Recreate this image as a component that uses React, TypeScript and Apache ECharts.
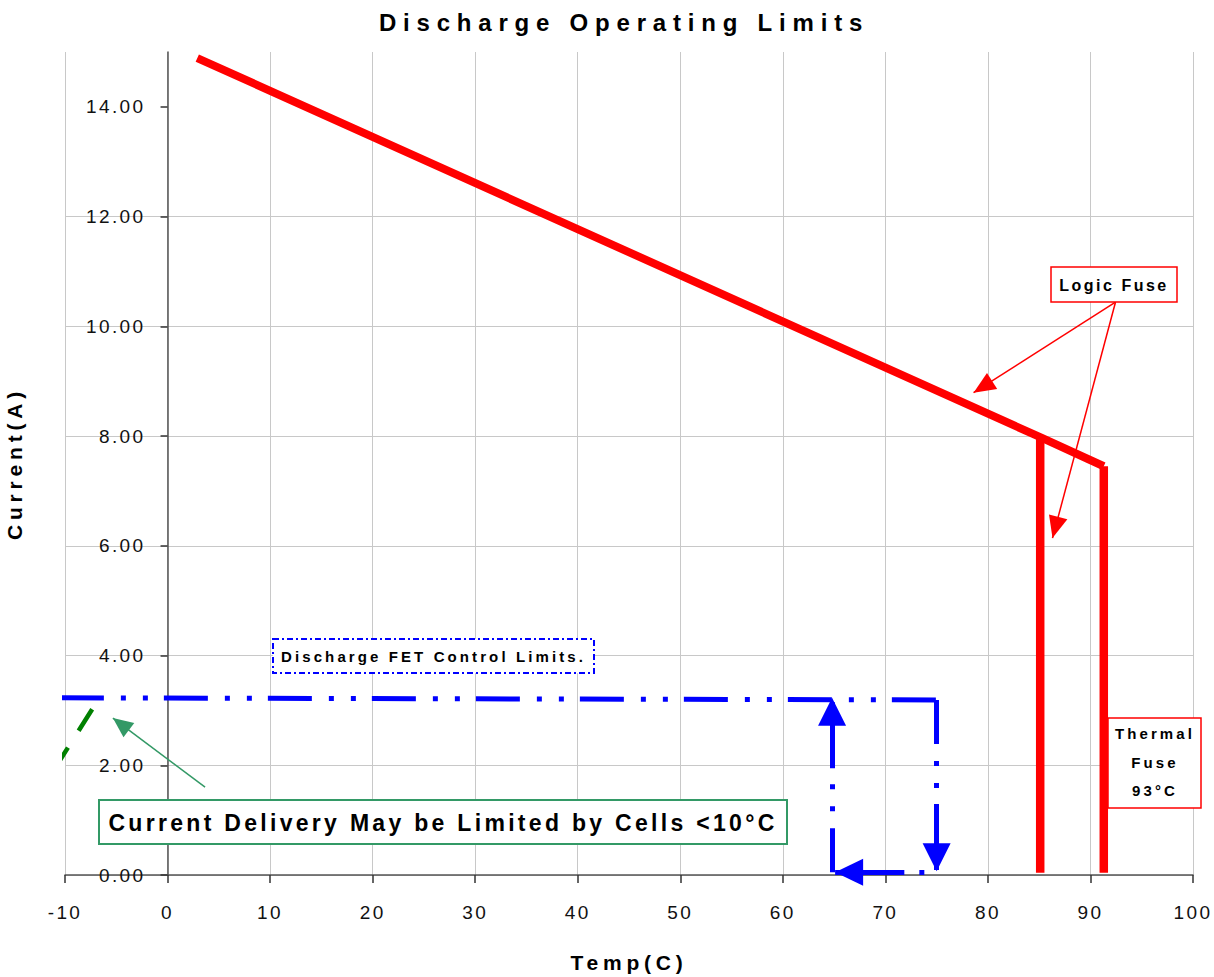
import React, { useEffect, useRef } from 'react';
import * as echarts from 'echarts';

// ---------- texts ----------
const TITLE = 'Discharge Operating Limits';
const X_NAME = 'Temp(C)';
const Y_NAME = 'Current(A)';
const LOGIC_LABEL = 'Logic Fuse';
const FET_LABEL = 'Discharge FET Control Limits.';
const CELL_LABEL = 'Current Delivery May be Limited by Cells <10°C';
const THERMAL_LABEL = 'Thermal\nFuse\n93°C';

// ---------- axes ----------
const X_MIN = -10;
const X_MAX = 100;
const X_STEP = 10;
const Y_MIN = 0;
const Y_MAX = 15;
const Y_STEP = 2;
const Y_TICKS = [0, 2, 4, 6, 8, 10, 12, 14];

// ---------- series (temp °C, current A) ----------
const LOGIC_FUSE_TEMP = [2.9, 85.1, 91.3];
const LOGIC_FUSE_CURRENT = [14.89, 7.98, 7.45];

const LOGIC_CUTOFF_TEMP = [85.1, 85.1];
const LOGIC_CUTOFF_CURRENT = [7.98, 0.04];

const THERMAL_TEMP = [91.3, 91.3];
const THERMAL_CURRENT = [7.45, 0.04];

const FET_TEMP = [-10.5, 75];
const FET_CURRENT = [3.23, 3.19];

const CELL_TEMP = [-10.6, -7.35];
const CELL_CURRENT = [2.06, 3.02];

// ---------- arrows (data coordinates) ----------
const FET_DOWN_FROM = [75, 3.19];
const FET_DOWN_TO = [75, 0.07];
const FET_LEFT_FROM = [73.8, 0.05];
const FET_LEFT_TO = [65.1, 0.05];
const FET_UP_FROM = [64.8, 0.05];
const FET_UP_TO = [64.8, 3.23];
const LOGIC_ARROW_FROM = [92.44, 10.44];
const LOGIC_ARROW_TO_A = [78.6, 8.79];
const LOGIC_ARROW_TO_B = [86.3, 6.14];
const CELL_ARROW_FROM = [3.66, 1.6];
const CELL_ARROW_TO = [-5.33, 2.86];

const FONT = 'Arial, Liberation Sans, sans-serif';
const RED = '#ff0000';
const BLUE = '#0000ff';
const SEA = '#339966';
const GREEN = '#008000';
const DASH_DOT_DOT = [44, 17, 5, 17, 5, 16];

const GRID_LEFT = 65;
const GRID_RIGHT = 21;
const CHART_W = 1214;
// the y axis sits at temp = 0, so shift it from the grid edge to that position
const Y_AXIS_SHIFT = ((0 - X_MIN) / (X_MAX - X_MIN)) * (CHART_W - GRID_LEFT - GRID_RIGHT);

const CSS = `
body{margin:0}
#dol svg text[style*="24px"]{letter-spacing:6.8px}
#dol svg text[style*="19px"]{letter-spacing:2.4px}
#dol svg text[style*="21px"]{letter-spacing:4.8px}
#dol svg text[style*="23px"]{letter-spacing:3.3px}
#dol svg text[style*="16px"]{letter-spacing:2.5px}
#dol svg text[style*="15px"]{letter-spacing:3.1px}
`;

const pairs = (xs: number[], ys: number[]) => xs.map((x, i) => [x, ys[i]]);

const arrowHead = (coord: number[], w: number, h: number) => ({
  coord,
  symbol: 'triangle',
  symbolSize: [w, h],
  symbolOffset: [0, h / 2],
});

export default function App() {
  const ref = useRef<HTMLDivElement>(null);

  useEffect(() => {
    if (!ref.current) return;
    const chart = echarts.init(ref.current, undefined, { renderer: 'svg' });

    const axisText = { fontSize: 19, color: '#111', fontFamily: FONT };
    const nameText = { fontSize: 21, fontWeight: 'bold' as const, color: '#000', fontFamily: FONT };
    const arrowCommon = {
      silent: true,
      animation: false,
      symbol: ['none', 'triangle'],
      symbolSize: 20,
      label: { show: false },
      emphasis: { disabled: true },
    };

    const option: any = {
      animation: false,
      backgroundColor: '#ffffff',
      title: {
        text: TITLE,
        left: 624,
        textAlign: 'center',
        top: 10,
        padding: 0,
        textStyle: { fontSize: 24, fontWeight: 'bold', color: '#000', fontFamily: FONT },
      },
      grid: {
        left: GRID_LEFT,
        right: GRID_RIGHT,
        top: 52,
        bottom: 102,
        containLabel: false,
        outerBoundsMode: 'none',
      },
      xAxis: {
        type: 'value',
        min: X_MIN,
        max: X_MAX,
        interval: X_STEP,
        name: X_NAME,
        nameLocation: 'middle',
        nameGap: 77,
        nameTextStyle: nameText,
        axisLine: { show: true, onZero: true, lineStyle: { color: '#555', width: 1.5 } },
        axisTick: { show: true, inside: false, length: 8, lineStyle: { color: '#333', width: 1.5 } },
        axisLabel: { ...axisText, margin: 28, formatter: (v: number) => String(v) },
        splitLine: { show: true, showMinLine: true, showMaxLine: true, lineStyle: { color: '#c8c8c8', width: 1 } },
      },
      yAxis: {
        type: 'value',
        min: Y_MIN,
        max: Y_MAX,
        interval: Y_STEP,
        offset: -Y_AXIS_SHIFT,
        name: Y_NAME,
        nameLocation: 'middle',
        nameRotate: 90,
        nameGap: 143,
        nameTextStyle: nameText,
        axisLine: { show: true, onZero: false, lineStyle: { color: '#555', width: 1.5 } },
        axisTick: { show: true, inside: false, length: 7, customValues: Y_TICKS, lineStyle: { color: '#333', width: 1.5 } },
        axisLabel: {
          ...axisText,
          margin: 22,
          customValues: Y_TICKS,
          formatter: (v: number) => (v > Y_TICKS[Y_TICKS.length - 1] ? '' : v.toFixed(2)),
        },
        splitLine: { show: true, showMaxLine: false, lineStyle: { color: '#c8c8c8', width: 1 } },
      },
      series: [
        {
          name: 'Discharge FET Control Limit',
          type: 'line',
          data: pairs(FET_TEMP, FET_CURRENT),
          symbol: 'none',
          clip: false,
          z: 3,
          lineStyle: { color: BLUE, width: 5, type: DASH_DOT_DOT, cap: 'butt' },
          markLine: {
            ...arrowCommon,
            lineStyle: { color: BLUE, width: 5, type: DASH_DOT_DOT, cap: 'butt' },
            data: [
              [{ coord: FET_DOWN_FROM, symbol: 'none' }, arrowHead(FET_DOWN_TO, 28, 28)],
              [
                { coord: FET_LEFT_FROM, symbol: 'none', lineStyle: { color: BLUE, width: 5, type: [5, 15, 200] } },
                arrowHead(FET_LEFT_TO, 27, 28),
              ],
              [{ coord: FET_UP_FROM, symbol: 'none' }, arrowHead(FET_UP_TO, 28, 28)],
            ],
          },
        },
        {
          name: 'Logic Fuse',
          type: 'line',
          data: pairs(LOGIC_FUSE_TEMP, LOGIC_FUSE_CURRENT),
          symbol: 'none',
          clip: false,
          z: 4,
          lineStyle: { color: RED, width: 8 },
          markLine: {
            ...arrowCommon,
            lineStyle: { color: RED, width: 1.5, type: 'solid' },
            data: [
              [{ coord: LOGIC_ARROW_FROM, symbol: 'none' }, arrowHead(LOGIC_ARROW_TO_A, 19, 22)],
              [{ coord: LOGIC_ARROW_FROM, symbol: 'none' }, arrowHead(LOGIC_ARROW_TO_B, 19, 22)],
            ],
          },
        },
        {
          name: 'Logic Fuse Cut-off',
          type: 'line',
          data: pairs(LOGIC_CUTOFF_TEMP, LOGIC_CUTOFF_CURRENT),
          symbol: 'none',
          z: 4,
          lineStyle: { color: RED, width: 8.5, cap: 'butt' },
        },
        {
          name: 'Thermal Fuse',
          type: 'line',
          data: pairs(THERMAL_TEMP, THERMAL_CURRENT),
          symbol: 'none',
          z: 4,
          lineStyle: { color: RED, width: 8.5, cap: 'butt' },
        },
        {
          name: 'Cell Limit',
          type: 'line',
          data: pairs(CELL_TEMP, CELL_CURRENT),
          symbol: 'none',
          clip: false,
          z: 3,
          lineStyle: { color: GREEN, width: 4.5, type: [17, 20, 30], cap: 'butt' },
          markLine: {
            ...arrowCommon,
            lineStyle: { color: SEA, width: 1.5, type: 'solid' },
            data: [[{ coord: CELL_ARROW_FROM, symbol: 'none' }, arrowHead(CELL_ARROW_TO, 18, 20)]],
          },
        },
      ],
      graphic: [
        {
          type: 'rect',
          z: 100,
          shape: { x: 1051, y: 267, width: 126, height: 35 },
          style: { fill: '#fff', stroke: RED, lineWidth: 1.5 },
        },
        {
          type: 'text',
          z: 101,
          x: 1114,
          y: 285,
          style: {
            text: LOGIC_LABEL,
            fontSize: 16,
            fontWeight: 'bold',
            fontFamily: FONT,
            fill: '#000',
            align: 'center',
            verticalAlign: 'middle',
            textAlign: 'center',
            textVerticalAlign: 'middle',
          },
        },
        {
          type: 'rect',
          z: 100,
          shape: { x: 273, y: 639, width: 321, height: 34 },
          style: { fill: '#fff', stroke: BLUE, lineWidth: 2, lineDash: [6, 3, 2, 3] },
        },
        {
          type: 'text',
          z: 101,
          x: 433.5,
          y: 656.5,
          style: {
            text: FET_LABEL,
            fontSize: 15,
            fontWeight: 'bold',
            fontFamily: FONT,
            fill: '#000',
            align: 'center',
            verticalAlign: 'middle',
            textAlign: 'center',
            textVerticalAlign: 'middle',
          },
        },
        {
          type: 'rect',
          z: 100,
          shape: { x: 99, y: 800, width: 688, height: 44 },
          style: { fill: '#fff', stroke: SEA, lineWidth: 2 },
        },
        {
          type: 'text',
          z: 101,
          x: 443,
          y: 822.5,
          style: {
            text: CELL_LABEL,
            fontSize: 23,
            fontWeight: 'bold',
            fontFamily: FONT,
            fill: '#000',
            align: 'center',
            verticalAlign: 'middle',
            textAlign: 'center',
            textVerticalAlign: 'middle',
          },
        },
        {
          type: 'rect',
          z: 100,
          shape: { x: 1108, y: 718, width: 93, height: 90 },
          style: { fill: '#fff', stroke: RED, lineWidth: 1.5 },
        },
        {
          type: 'text',
          z: 101,
          x: 1155,
          y: 762,
          style: {
            text: THERMAL_LABEL,
            fontSize: 15,
            fontWeight: 'bold',
            fontFamily: FONT,
            lineHeight: 28.5,
            fill: '#000',
            align: 'center',
            verticalAlign: 'middle',
            textAlign: 'center',
            textVerticalAlign: 'middle',
          },
        },
      ],
    };

    chart.setOption(option);
    return () => {
      chart.dispose();
    };
  }, []);

  return (
    <>
      <style>{CSS}</style>
      <div id="dol" ref={ref} style={{ width: 1214, height: 977 }} />
    </>
  );
}
